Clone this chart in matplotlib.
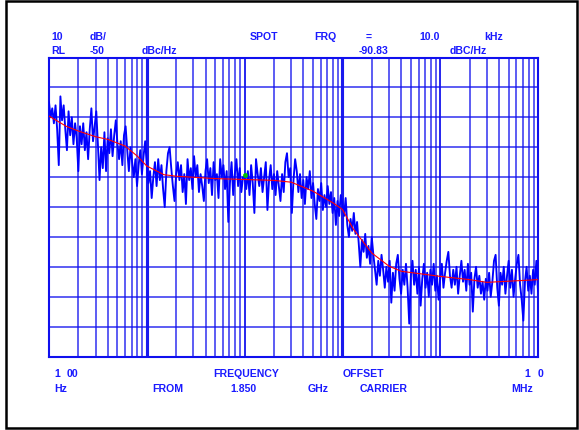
import numpy as np
from matplotlib import pyplot as plt
from matplotlib.patches import Rectangle

# blue trace, dBc/Hz, one value per sweep point (100 Hz .. 10 MHz, log sweep)
dec1 = [-65, -70, -67, -72, -66, -74, -86, -63, -71, -66, -74, -81, -68, -76, -70,
        -79, -72, -77, -88, -73, -79, -72, -81, -75, -84, -74, -67, -78, -73, -68,
        -79, -91, -80, -87, -75, -88, -77, -82, -74, -83, -76, -71, -79, -84, -78,
        -86, -76, -73, -81, -88, -80, -85, -90, -84, -93, -86, -81, -89, -83, -78]
dec2 = [-86, -92, -88, -97, -90, -85, -93, -84, -91, -86, -94, -100, -88, -82, -80,
        -87, -93, -98, -89, -85, -91, -86, -95, -89, -99, -84, -91, -87, -94, -83,
        -90, -86, -95, -89, -93, -98, -88, -84, -92, -87, -96, -85, -91, -89, -97,
        -84, -90, -86, -94, -88, -105, -92, -85, -96, -89, -84, -93, -87, -95, -90]
dec3 = [-90, -94, -88, -96, -86, -92, -102, -84, -89, -93, -87, -95, -90, -85, -101,
        -91, -86, -94, -89, -96, -88, -93, -98, -89, -95, -85, -82, -90, -87, -102,
        -91, -84, -88, -95, -89, -97, -91, -99, -90, -94, -88, -97, -92, -99, -104,
        -94, -98, -92, -101, -96, -100, -93, -99, -95, -102, -97, -106, -98, -103, -96]
dec4 = [-99, -103, -97, -106, -110, -104, -108, -102, -109, -105, -112, -120, -111, -115, -109,
        -117, -113, -119, -110, -116, -121, -126, -118, -123, -116, -121, -127, -120, -125, -118,
        -132, -122, -128, -119, -116, -124, -129, -121, -126, -119, -127, -139, -123, -118, -126,
        -121, -129, -120, -133, -124, -119, -127, -122, -130, -121, -126, -119, -128, -123, -131]
dec5 = [-124, -119, -127, -122, -118, -115, -123, -127, -121, -126, -120, -129, -123, -118, -125,
        -121, -128, -119, -126, -122, -135, -124, -120, -127, -123, -129, -125, -131, -124, -128,
        -122, -130, -125, -118, -116, -127, -133, -122, -126, -120, -129, -123, -118, -127, -121,
        -130, -124, -119, -116, -126, -131, -138, -125, -120, -128, -123, -129, -121, -126, -118,
        -128]
noise_db = dec1 + dec2 + dec3 + dec4 + dec5
noise_f = np.logspace(2, 7, len(noise_db))

# red smoothed trace
smooth_f = [100, 150, 200, 300, 400, 600, 800, 1e3, 1.5e3, 2e3, 5e3, 1e4, 2e4, 3e4,
            5e4, 8e4, 1e5, 1.3e5, 2e5, 3e5, 4e5, 1e6, 2e6, 3e6, 1e7]
smooth_db = [-69.6, -73, -74.6, -76.5, -77.4, -79.6, -83, -86.3, -89.2, -89.7, -90.5,
             -90.8, -91.1, -91.7, -94.7, -98.6, -100.8, -107.5, -115.4, -119.8, -121.5,
             -123.2, -124.3, -125.2, -124.3]

spot_f = 1e4
spot_db = -89.4

W, H = 579, 431
fig = plt.figure(figsize=(W / 100, H / 100), dpi=100)
ax = fig.add_axes([49 / W, 1 - 357.5 / H, 489 / W, 299 / H])

grid_c = '#1010ee'
for dec in [1e2, 1e3, 1e4, 1e5, 1e6]:
    for m in range(1, 11):
        f = dec * m
        if f <= 1e2 or f >= 1e7:
            continue
        lw = 2.2 if f in (1e3, 1e5) else 1.2
        ax.axvline(f, color=grid_c, lw=lw, alpha=0.8, zorder=1)
for y in range(-140, -50, 10):
    ax.axhline(y, color=grid_c, lw=1.2, alpha=0.8, zorder=1)

ax.plot(noise_f, noise_db, color='#0000ff', lw=1.35, zorder=3)
ax.plot(smooth_f, smooth_db, color='red', lw=0.8, zorder=4)
ax.plot([spot_f], [spot_db], 'o', color='#00c000', ms=2.5, zorder=5)

ax.set_xscale('log')
ax.set_xlim(1e2, 1e7)
ax.set_ylim(-150, -50)
ax.set_xticks([])
ax.set_yticks([])
ax.minorticks_off()
for s in ax.spines.values():
    s.set_color(grid_c)
    s.set_linewidth(1.5)

txt = dict(color='#1a1aff', fontsize=7.6, fontweight='bold',
           family='Liberation Sans', va='center', ha='left')
labels = [
    (51, 36.5, '10'), (89.7, 36.5, 'dB/'), (249.6, 36.5, 'SPOT'), (314, 36.5, 'FRQ'),
    (366, 36.5, '='), (419, 36.5, '10.0'), (484, 36.5, 'kHz'),
    (51, 50.5, 'RL'), (89.7, 50.5, '-50'), (142, 50.5, 'dBc/Hz'),
    (359, 50.5, '-90.83'), (450, 50.5, 'dBC/Hz'),
    (54.7, 374.5, '1'), (66.8, 374.5, '00'), (213, 374.5, 'FREQUENCY'),
    (343, 374.5, 'OFFSET'), (524.4, 374.5, '1'), (537.3, 374.5, '0'),
    (54, 389, 'Hz'), (152, 389, 'FROM'), (230, 389, '1.850'), (308, 389, 'GHz'),
    (360, 389, 'CARRIER'), (511, 389, 'MHz'),
]
for x, y, s in labels:
    fig.text(x / W, 1 - y / H, s, **txt)

fig.patches.append(Rectangle((6 / W, 2 / H), 571 / W, 427 / H, transform=fig.transFigure,
                             fill=False, edgecolor='black', lw=1.8))

fig.savefig('out.png', dpi=100)
